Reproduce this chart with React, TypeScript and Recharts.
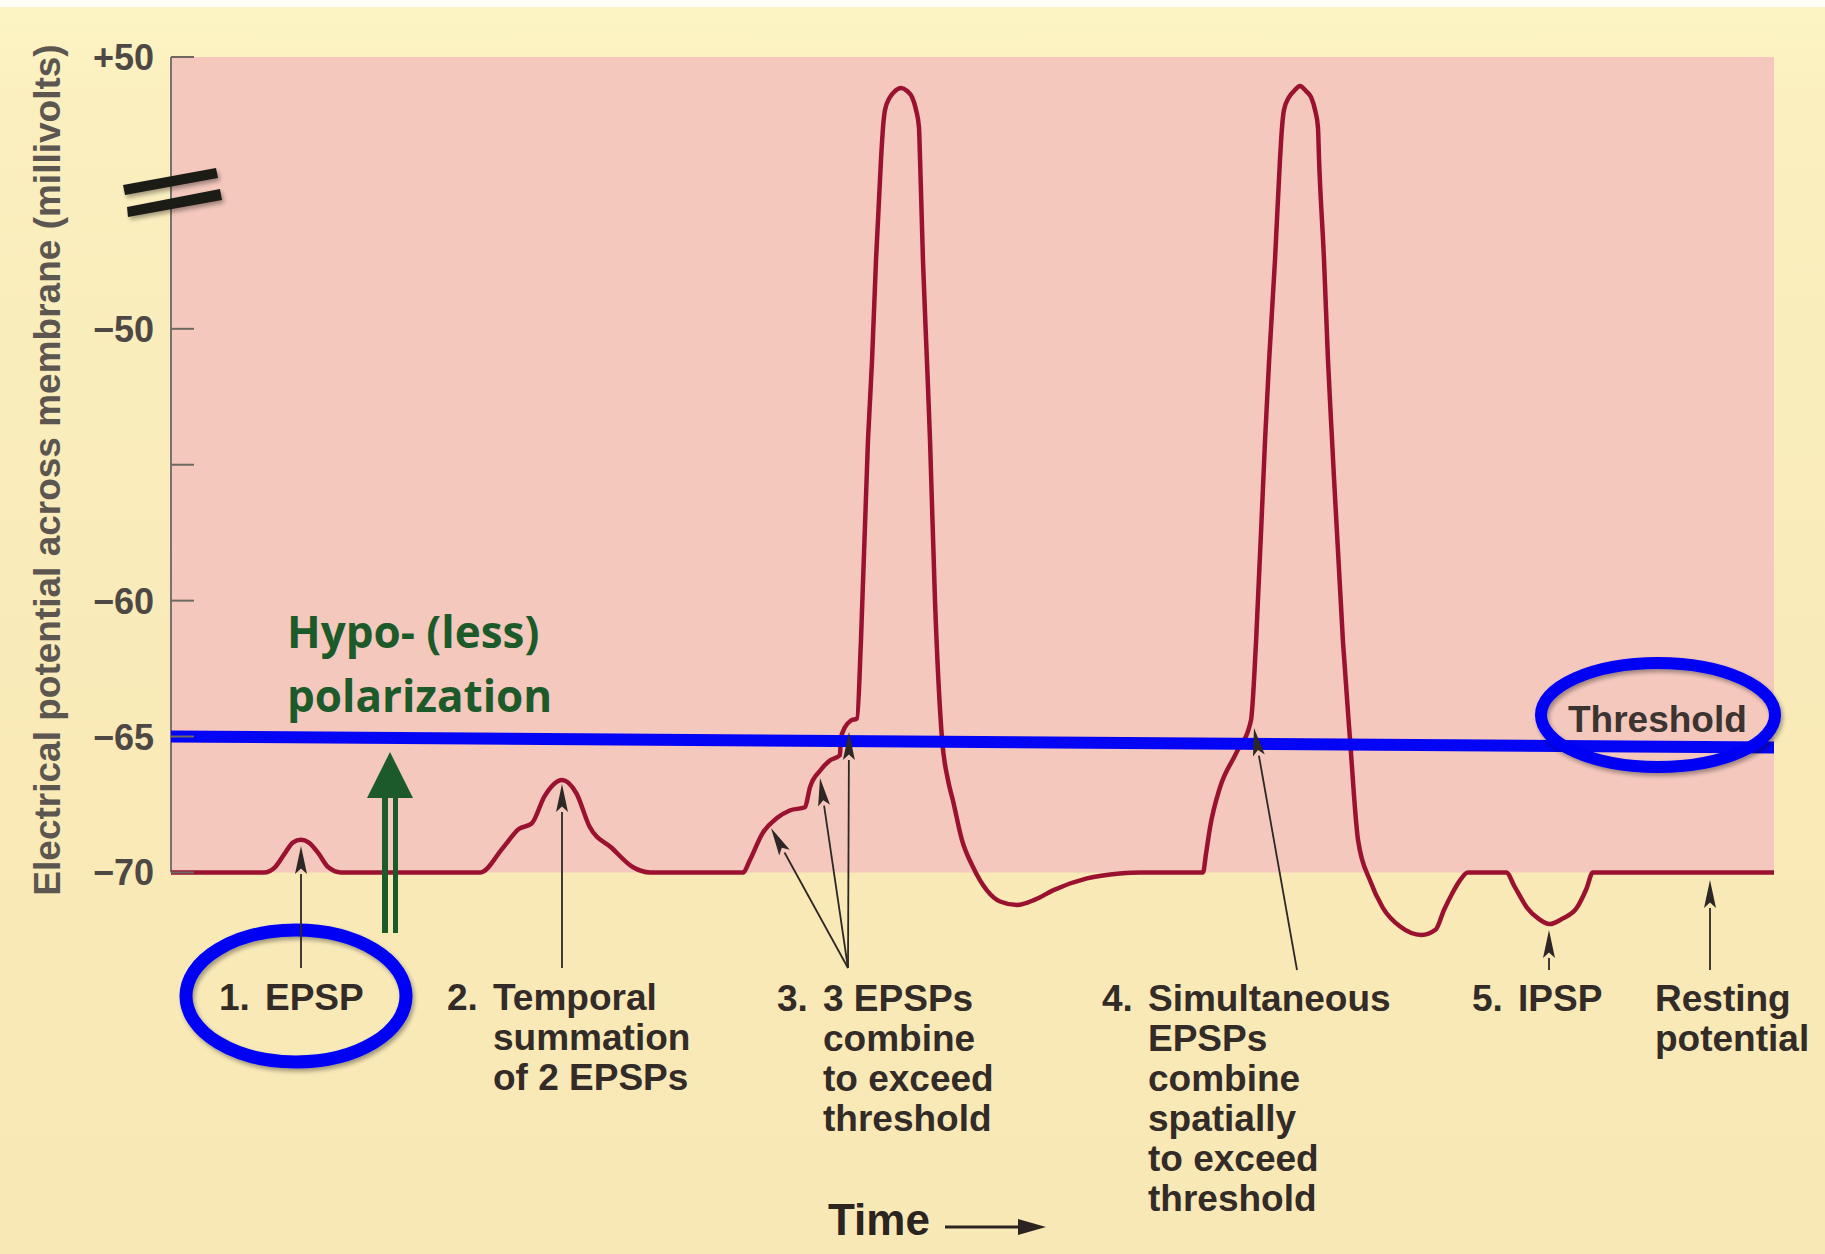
import React from "react";
import { ComposedChart, Line, XAxis, YAxis, ReferenceArea, ReferenceLine } from "recharts";

// time (arbitrary ms) and membrane potential (mV)
const TIME_MS = [
  0, 5.8, 6.5, 7.1, 7.6, 8.1, 8.6, 9.2, 9.8, 10.6,
  19.3, 20.7, 21.7, 22.5, 23.3, 24.4, 25.3, 26.1, 27.5, 28.8, 29.9,
  35.7, 36.1, 36.9, 37.8, 38.6, 39.55, 39.86, 40.5, 41.1, 41.73, 41.79, 42.04, 42.42, 42.8,
  43.04, 43.48, 43.73, 43.98, 44.29, 44.42, 44.54, 44.85, 45.17, 45.54, 45.92, 46.23, 46.48, 46.66, 46.73,
  46.91, 47.16, 47.35, 47.66, 48.1, 48.47, 48.78, 49.34, 50.03, 50.9, 51.72, 52.78, 53.9, 55.02, 57.14, 59.2, 60.45,
  64.38, 64.57, 64.82, 65.44, 66.44, 67.37, 67.69, 68.25, 68.5, 68.87, 69.18, 69.31, 69.43, 69.74, 70.06, 70.43,
  70.8, 71.12, 71.37, 71.55, 71.62, 71.93, 72.18, 72.43, 73.11, 73.55, 74.05, 74.8, 75.6, 76.7, 78.0, 78.9,
  79.4, 79.9, 80.4, 80.9, 81.2,
  83.3, 83.8, 84.6, 85.3, 86.0, 86.8, 87.7, 88.3, 88.7, 100,
];
const MEMBRANE_MV = [
  -70, -70, -69.8, -69.3, -68.9, -68.8, -68.9, -69.3, -69.8, -70,
  -70, -69.1, -68.4, -68.2, -67.2, -66.6, -67.1, -68.3, -69.1, -69.8, -70,
  -70, -69.56, -68.56, -68.0, -67.72, -67.6, -66.87, -66.25, -65.88, -65.69, -65.07, -64.66, -64.41, -64.33,
  -61.5, -54.1, -51.2, -24.8, 12.1, 24.2, 30.5, 35.2, 37.5, 38.6, 37.5, 35.2, 30.5, 24.2, 12.1,
  -24.8, -51.2, -54.1, -60.0, -65.1, -66.6, -67.35, -68.8, -69.8, -70.66, -71.07, -71.2, -71.0, -70.66, -70.22, -70.04, -70,
  -70, -69.3, -68.34, -66.87, -65.62, -64.41, -61.5, -54.1, -51.2, -24.8, 12.1, 24.2, 30.5, 35.2, 37.5, 39.3,
  37.5, 35.2, 30.5, 24.2, 12.1, -24.8, -51.2, -54.1, -61.5, -65.1, -68.8, -70.3, -71.3, -72.0, -72.3, -72.1,
  -71.4, -70.8, -70.3, -70.0, -70,
  -70, -70.5, -71.3, -71.7, -71.9, -71.7, -71.3, -70.6, -70, -70,
];

// hand-drawn threshold line (slightly sloped)
const THRESHOLD_T = [0, 100];
const THRESHOLD_MV = [-65.0, -65.4];

const Y_TICKS_MV = [-70, -65, -60, -55, -50, 50];
const Y_TICK_LABELS = ["\u221270", "\u221265", "\u221260", "", "\u221250", "+50"];

// broken axis: -50..+50 squeezed into -50..-40
const toAxis = (mv: number) => (mv <= -50 ? mv : -50 + (mv + 50) / 10);

const membrane = TIME_MS.map((t, i) => ({ t, v: toAxis(MEMBRANE_MV[i]) }));
const threshold = THRESHOLD_T.map((t, i) => ({ t, v: toAxis(THRESHOLD_MV[i]) }));
const yTicks = Y_TICKS_MV.map(toAxis);

const W = 1825;
const H = 1254;
const AXIS_X = 171;
const PINK = "#f4c8bd";
const TRACE = "#9a1230";
const BLUE = "#0505f5";
const GREEN = "#1d5a2a";
const INK = "#322b27";
const SANS = "'Liberation Sans', Arial, sans-serif";

function AxisTick({ y, payload }: { y?: number; payload?: { value: number } }) {
  const i = yTicks.indexOf(payload?.value ?? NaN);
  const label = i >= 0 ? Y_TICK_LABELS[i] : "";
  return (
    <g>
      <line x1={AXIS_X} x2={AXIS_X + 23} y1={y} y2={y} stroke="#6f6862" strokeWidth={2} />
      <text x={AXIS_X - 17} y={y} dy="0.36em" textAnchor="end" fontFamily={SANS} fontWeight="bold" fontSize={36} fill="#4d4843">
        {label}
      </text>
    </g>
  );
}

function Arrow({ x1, y1, x2, y2 }: { x1: number; y1: number; x2: number; y2: number }) {
  const a = Math.atan2(y2 - y1, x2 - x1);
  const len = 28;
  const hw = 6;
  const bx = x2 - len * Math.cos(a);
  const by = y2 - len * Math.sin(a);
  const px = -Math.sin(a) * hw;
  const py = Math.cos(a) * hw;
  return (
    <g>
      <line x1={x1} y1={y1} x2={bx} y2={by} stroke="#2d2825" strokeWidth={1.8} />
      <polygon points={`${x2},${y2} ${bx + px},${by + py} ${bx + (x2 - bx) * 0.2},${by + (y2 - by) * 0.2} ${bx - px},${by - py}`} fill="#2d2825" />
    </g>
  );
}

function Label({ x, y, lines, num }: { x: number; y: number; lines: string[]; num?: string }) {
  return (
    <text fontFamily={SANS} fontWeight="bold" fontSize={37} fill={INK}>
      {num && (
        <tspan x={x - 46} y={y}>
          {num}
        </tspan>
      )}
      {lines.map((l, i) => (
        <tspan key={i} x={x} y={y + i * 40}>
          {l}
        </tspan>
      ))}
    </text>
  );
}

function Overlay() {
  return (
    <svg width={W} height={H} style={{ position: "absolute", left: 0, top: 0, pointerEvents: "none" }}>
      <defs>
        <filter id="shadow" x="-10%" y="-20%" width="120%" height="140%">
          <feDropShadow dx="2" dy="3" stdDeviation="2" floodColor="#000" floodOpacity="0.35" />
        </filter>
      </defs>

      {/* y axis title */}
      <text
        transform="translate(60, 470) rotate(-90)"
        textAnchor="middle"
        fontFamily={SANS}
        fontWeight="bold"
        fontSize={37}
        fill="#5b5650"
      >
        Electrical potential across membrane (millivolts)
      </text>

      {/* axis break */}
      <g fill="#1e1b16" filter="url(#shadow)">
        <polygon points="123,185 216,168 218,178 125,195" />
        <polygon points="127,207 220,189 222,200 128,217" />
      </g>

      {/* hypo-polarization note */}
      <text fontFamily="'Open Sans', 'Noto Sans', sans-serif" fontWeight="bold" fontSize={44} fill={GREEN}>
        <tspan x={287} y={648}>Hypo- (less)</tspan>
        <tspan x={287} y={712}>polarization</tspan>
      </text>
      <g fill={GREEN}>
        <rect x={382} y={797} width={6} height={136} />
        <rect x={393} y={797} width={5} height={136} />
        <polygon points="367,798 413,798 390,752" />
      </g>

      <text x={1568} y={732} fontFamily={SANS} fontWeight="bold" fontSize={37} fill="#3b3430">
        Threshold
      </text>
      <ellipse cx={1658} cy={715} rx={117} ry={52} fill="none" stroke={BLUE} strokeWidth={12} filter="url(#shadow)" />
      <ellipse cx={296} cy={996} rx={110} ry={66} fill="none" stroke={BLUE} strokeWidth={13} filter="url(#shadow)" />

      {/* pointer arrows */}
      <Arrow x1={301} y1={968} x2={301} y2={846} />
      <Arrow x1={562} y1={968} x2={562} y2={784} />
      <Arrow x1={848} y1={968} x2={771} y2={828} />
      <Arrow x1={848} y1={968} x2={820} y2={778} />
      <Arrow x1={848} y1={968} x2={849} y2={732} />
      <Arrow x1={1297} y1={970} x2={1254} y2={728} />
      <Arrow x1={1549} y1={970} x2={1549} y2={930} />
      <Arrow x1={1710} y1={970} x2={1710} y2={880} />

      <Label x={265} y={1010} num="1." lines={["EPSP"]} />
      <Label x={493} y={1010} num="2." lines={["Temporal", "summation", "of 2 EPSPs"]} />
      <Label x={823} y={1011} num="3." lines={["3 EPSPs", "combine", "to exceed", "threshold"]} />
      <Label x={1148} y={1011} num="4." lines={["Simultaneous", "EPSPs", "combine", "spatially", "to exceed", "threshold"]} />
      <Label x={1518} y={1011} num="5." lines={["IPSP"]} />
      <Label x={1655} y={1011} lines={["Resting", "potential"]} />

      <text x={828} y={1235} fontFamily={SANS} fontWeight="bold" fontSize={44} fill="#2b2420">
        Time
      </text>
      <line x1={945} y1={1227} x2={1025} y2={1227} stroke="#2b2420" strokeWidth={3} />
      <polygon points="1018,1219 1046,1227 1018,1235" fill="#2b2420" />
    </svg>
  );
}

export default function App() {
  return (
    <div
      style={{
        position: "absolute",
        left: 0,
        top: 0,
        width: W,
        height: H,
        background: "linear-gradient(180deg, #fdf5c4 0%, #fbefbf 8%, #f9eab8 60%, #f8e8b6 100%)",
        overflow: "hidden",
      }}
    >
      <div style={{ position: "absolute", left: 0, top: 0, width: W, height: 7, background: "#fffef6" }} />
      <ComposedChart width={W} height={H} margin={{ top: 57, right: 51, bottom: 300, left: 0 }}>
        <XAxis type="number" dataKey="t" domain={[0, 100]} hide allowDataOverflow />
        <YAxis
          type="number"
          domain={[-73, -40]}
          ticks={yTicks}
          interval={0}
          width={AXIS_X}
          axisLine={false}
          tickLine={false}
          tick={<AxisTick />}
          allowDataOverflow
        />
        <ReferenceArea x1={0} x2={100} y1={-70} y2={-40} fill={PINK} fillOpacity={1} stroke="none" />
        <ReferenceLine segment={[{ x: 0, y: -70 }, { x: 0, y: -40 }]} stroke="#7b736b" strokeWidth={2} />
        <Line
          data={membrane}
          dataKey="v"
          type="monotone"
          stroke={TRACE}
          strokeWidth={4.5}
          dot={false}
          activeDot={false}
          isAnimationActive={false}
        />
        <Line
          data={threshold}
          dataKey="v"
          type="linear"
          stroke={BLUE}
          strokeWidth={12}
          dot={false}
          activeDot={false}
          isAnimationActive={false}
        />
      </ComposedChart>
      <Overlay />
    </div>
  );
}
